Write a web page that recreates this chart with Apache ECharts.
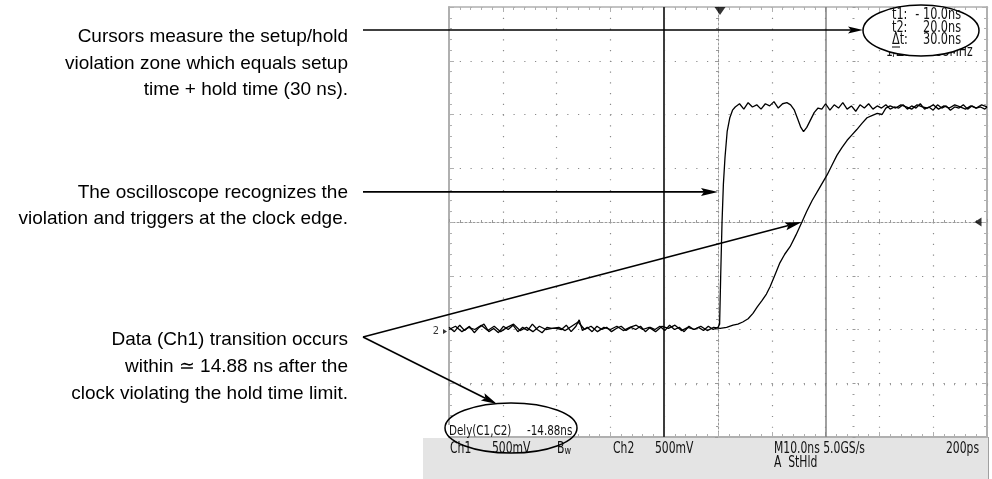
<!DOCTYPE html>
<html><head><meta charset="utf-8">
<script src="https://cdn.jsdelivr.net/npm/echarts@6/dist/echarts.min.js"></script>
<style>html,body{margin:0;padding:0;background:#fff;}#c{width:992px;height:479px;}</style>
</head><body><div id="c"></div>
<script>
// ---------- data ----------
const timeMinNs = -50, timeMaxNs = 50, timePerDivNs = 10;
const voltMin = -1, voltMax = 3, voltPerDiv = 0.5;
const cursorTimesNs = [-10, 20];
const triggerTimeNs = 0;
const triggerLevelV = 1.0;
const groundLevelV = 0;
const delayNs = -14.88;
const clockEdgeTarget = [0, 1.28];
const dataCrossTarget = [15.6, 1.0];

// Ch1 (data) waveform [ns, V]
const ch1Data = [
 [-50,0.0],[-48.8,0.03],[-47.6,-0.02],[-46.4,0.02],[-45.2,0.0],[-44,0.04],[-42.8,-0.01],[-41.6,0.03],[-40.4,-0.02],[-39.2,0.02],
 [-38,0.05],[-36.8,-0.01],[-35.6,0.02],[-34.4,-0.02],[-33.2,0.03],[-32,0.0],[-30.8,0.01],[-29.6,0.02],[-28.4,-0.01],[-27.2,0.03],
 [-26,0.07],[-24.8,0.0],[-23.6,0.03],[-22.4,-0.02],[-21.2,0.02],[-20,0.0],[-18.8,0.03],[-17.6,-0.01],[-16.4,0.02],[-15.2,0.04],
 [-14,0.0],[-12.8,0.02],[-11.6,-0.02],[-10.4,0.03],[-9.2,0.01],[-8,0.04],[-6.8,-0.01],[-5.6,0.02],[-4.4,0.0],[-3.2,0.03],
 [-2,-0.01],[-0.8,0.02],[0.4,0.01],
 [1.6,0.02],[2.8,0.04],[3.7,0.05],[4.6,0.07],[5.6,0.1],[6.5,0.15],[7.3,0.21],[8.2,0.27],[9,0.33],[9.7,0.40],[10.6,0.51],
 [11.5,0.62],[12.4,0.70],[13.4,0.77],[14.5,0.88],[15.6,1.0],[16.5,1.1],[17.5,1.2],[18.9,1.32],[20.3,1.44],[21.2,1.53],
 [22.1,1.62],[23,1.69],[24,1.76],[24.9,1.81],[25.8,1.86],[26.8,1.92],[27.7,1.97],[28.6,1.99],[29.6,2.01],[30.5,2.0],[31.2,2.06],
 [32,2.08],[33,2.06],[34,2.09],[35,2.07],[36,2.05],[37,2.09],[38,2.07],[39,2.06],[40,2.09],[41,2.05],
 [42,2.08],[43,2.06],[44,2.09],[45,2.07],[46,2.05],[47,2.08],[48,2.06],[49,2.09],[50,2.07]
];

// Ch2 (clock) waveform [ns, V]
const ch2Clock = [
 [-50,0.02],[-49,-0.02],[-48,0.04],[-47.1,-0.01],[-46.2,0.03],[-45.3,-0.03],[-44.4,0.02],[-43.5,0.05],[-42.6,-0.02],[-41.7,0.01],
 [-40.8,-0.03],[-39.9,0.03],[-39,0.0],[-38.1,0.04],[-37.2,-0.02],[-36.3,0.02],[-35.4,-0.01],[-34.5,0.05],[-33.6,0.0],[-32.7,-0.03],
 [-31.8,0.02],[-30.9,0.01],[-30,0.01],[-29.1,0.0],[-28.2,0.04],[-27.3,-0.02],[-26.4,0.03],[-25.8,0.09],[-25.2,-0.01],[-24.3,0.02],
 [-23.4,-0.02],[-22.5,0.03],[-21.6,0.0],[-20.7,0.02],[-19.8,-0.02],[-18.9,0.01],[-18,0.03],[-17.1,-0.01],[-16.2,0.02],[-15.3,0.0],
 [-14.4,0.03],[-13.5,-0.02],[-12.6,0.02],[-11.7,0.0],[-10.8,0.03],[-9.9,-0.01],[-9,0.04],[-8.1,0.0],[-7.2,0.02],[-6.3,-0.02],
 [-5.4,0.03],[-4.5,0.0],[-3.6,0.02],[-2.7,-0.01],[-1.8,0.03],[-0.9,0.0],[0,0.02],
 [0.3,0.05],[0.5,0.5],[0.75,1.0],[1.0,1.35],[1.3,1.6],[1.7,1.84],[2.2,1.97],[2.7,2.04],
 [3.2,2.07],[4,2.1],[4.8,2.05],[5.6,2.11],[6.4,2.07],[7.2,2.09],[8,2.05],[8.8,2.1],[9.6,2.08],[10.4,2.12],
 [11.2,2.06],[12,2.1],[12.8,2.11],[13.5,2.09],
 [14.2,2.04],[14.8,1.96],[15.4,1.88],[15.9,1.84],[16.5,1.88],[17.2,1.95],[17.9,2.02],[18.6,2.06],[19.3,2.05],
 [20,2.1],[20.8,2.04],[21.6,2.09],[22.4,2.06],[23.2,2.11],[24,2.05],[24.8,2.08],[25.6,2.03],[26.4,2.09],[27.2,2.06],
 [28,2.1],[28.8,2.05],[29.6,2.08],[30.4,2.06],[31.2,2.09],[32,2.05],[32.8,2.07],[33.6,2.06],[34.4,2.09],[35.2,2.05],
 [36,2.08],[36.8,2.06],[37.6,2.1],[38.4,2.05],[39.2,2.07],[40,2.04],[40.8,2.09],[41.6,2.06],[42.4,2.08],[43.2,2.04],
 [44,2.07],[44.8,2.06],[45.6,2.09],[46.4,2.05],[47.2,2.08],[48,2.06],[48.8,2.07],[49.6,2.05],[50,2.07]
];

const noteCursors = ['Cursors measure the setup/hold', 'violation zone which equals setup', 'time + hold time (30 ns).'];
const noteTrigger = ['The oscilloscope recognizes the', 'violation and triggers at the clock edge.'];
const noteData = ['Data (Ch1) transition occurs', 'within \u2243 14.88 ns after the', 'clock violating the hold time limit.'];
const statusRow1 = [['Ch1',450],['500mV',492],['Ch2',613],['500mV',655],['M10.0ns 5.0GS/s',774]];
const statusRow2 = [['A  StHld',774]];
const statusRight = '200ps';

// ---------- chart ----------
const GRID = {left:449, top:7, width:538, height:430};
const EDGE = '#b0b0b0', DOT = '#8a8a8a';
const SCOPE_FONT = '"DejaVu Sans Condensed","Liberation Sans Narrow","Roboto Condensed",Roboto,sans-serif';
const NOTE_FONT = '"Liberation Sans",Arial,Helvetica,sans-serif';

const chart = echarts.init(document.getElementById('c'), null, {renderer:'canvas'});

function xAx(grid, pos, o) {
  return Object.assign({type:'value', gridIndex:grid, position:pos, min:timeMinNs, max:timeMaxNs, interval:timePerDivNs,
    axisLabel:{show:false}, splitLine:{show:false}}, o);
}
function yAx(grid, pos, o) {
  return Object.assign({type:'value', gridIndex:grid, position:pos, min:voltMin, max:voltMax, interval:voltPerDiv,
    axisLabel:{show:false}, splitLine:{show:false}}, o);
}
const edgeLine = {show:true, onZero:false, lineStyle:{color:EDGE, width:2}};
const edgeTick = {show:true, inside:true, length:5, lineStyle:{color:EDGE, width:1}};
const edgeMinor = {show:true, splitNumber:5, length:3, lineStyle:{color:EDGE, width:1}};
const ctrLine = {show:true, onZero:false, lineStyle:{color:'#9a9a9a', width:1, type:[2,2]}};
const ctrTick = {show:true, inside:true, length:3, lineStyle:{color:'#9a9a9a', width:1}};
const ctrMinor = {show:true, splitNumber:5, length:2, lineStyle:{color:'#9a9a9a', width:1}};

const option = {
  animation:false,
  backgroundColor:'#fff',
  grid:[
    Object.assign({}, GRID),
    {left:449, top:7, width:538, height:215},
    {left:449, top:222, width:538, height:215},
    {left:449, top:7, width:269, height:430},
    {left:718, top:7, width:269, height:430}
  ],
  xAxis:[
    xAx(0,'bottom',{axisLine:edgeLine, axisTick:edgeTick, minorTick:edgeMinor,
      splitLine:{show:true, lineStyle:{color:DOT, width:1.2, type:[1.2, 9.56]}}}),
    xAx(0,'top',{axisLine:{show:true,onZero:false,lineStyle:{color:EDGE,width:1.5}}, axisTick:edgeTick, minorTick:edgeMinor}),
    xAx(1,'bottom',{axisLine:ctrLine, axisTick:ctrTick, minorTick:ctrMinor}),
    xAx(2,'top',{axisLine:{show:false}, axisTick:ctrTick, minorTick:ctrMinor}),
    xAx(3,'bottom',{show:false}),
    xAx(4,'bottom',{show:false})
  ],
  yAxis:[
    yAx(0,'left',{axisLine:edgeLine, axisTick:edgeTick, minorTick:edgeMinor,
      splitLine:{show:true, lineStyle:{color:DOT, width:1.2, type:[1.2, 9.55]}}}),
    yAx(0,'right',{axisLine:edgeLine, axisTick:edgeTick, minorTick:edgeMinor}),
    yAx(1,'left',{show:false}),
    yAx(2,'left',{show:false}),
    yAx(3,'right',{axisLine:ctrLine, axisTick:ctrTick, minorTick:ctrMinor}),
    yAx(4,'left',{axisLine:{show:false}, axisTick:ctrTick, minorTick:ctrMinor})
  ],
  series:[
    {name:'Ch1', type:'line', xAxisIndex:0, yAxisIndex:0, data:ch1Data, showSymbol:false, symbol:'none',
      lineStyle:{color:'#000', width:1.3}, z:5,
      markLine:{silent:true, symbol:'none', label:{show:false}, animation:false,
        data:[
          {xAxis:cursorTimesNs[0], lineStyle:{color:'#3c3c3c', width:2, type:'solid'}},
          {xAxis:cursorTimesNs[1], lineStyle:{color:'#808080', width:1.5, type:'solid'}}
        ]}},
    {name:'Ch2', type:'line', xAxisIndex:0, yAxisIndex:0, data:ch2Clock, showSymbol:false, symbol:'none',
      lineStyle:{color:'#000', width:1.3}, z:6},
    {name:'markers', type:'scatter', xAxisIndex:0, yAxisIndex:0, clip:false, silent:true, z:7,
      itemStyle:{color:'#000'},
      data:[
        {value:[triggerTimeNs, voltMax], symbol:'triangle', symbolRotate:180, symbolSize:[11,8], symbolOffset:[2,4]},
        {value:[timeMaxNs, triggerLevelV], symbol:'triangle', symbolRotate:90, symbolSize:[9,7], symbolOffset:[-9,0]},
        {value:[timeMinNs, groundLevelV], symbol:'triangle', symbolRotate:-90, symbolSize:[5,4], symbolOffset:[-4,2],
          label:{show:true, position:'left', distance:4, formatter:'2', fontSize:11, fontFamily:SCOPE_FONT, color:'#000'}}
      ]}
  ]
};
chart.setOption(option);

// ---------- annotations ----------
const px = v => chart.convertToPixel({xAxisIndex:0, yAxisIndex:0}, v);
function arrow(x1,y1,x2,y2,len,hw,lw){
  const dx=x2-x1, dy=y2-y1, L=Math.hypot(dx,dy), ux=dx/L, uy=dy/L;
  const bx=x2-ux*len, by=y2-uy*len, nx=-uy, ny=ux;
  return [
    {type:'line', z:100, shape:{x1:x1,y1:y1,x2:bx+ux*3,y2:by+uy*3}, style:{stroke:'#000', lineWidth:lw}},
    {type:'polygon', z:100, shape:{points:[[x2,y2],[bx+nx*hw,by+ny*hw],[bx+ux*3,by+uy*3],[bx-nx*hw,by-ny*hw]]}, style:{fill:'#000'}}
  ];
}
function note(lines, ys){
  return lines.map((t,i)=>({type:'text', z:100, x:348, y:ys[i],
    style:{text:t, fontSize:19, fontFamily:NOTE_FONT, fill:'#000', align:'right', verticalAlign:'middle'}}));
}
function stxt(t,x,y,o,z){
  return {type:'text', z:z||110, x:x, y:y, scaleY:1.25,
    style:Object.assign({text:t, fontSize:12, fontFamily:SCOPE_FONT, fill:'#111', align:'left', verticalAlign:'middle'}, o||{})};
}

const pEdge = px(clockEdgeTarget);
const pCross = px(dataCrossTarget);
const els = [];
els.push(...note(noteCursors,[37,64,90]));
els.push(...note(noteTrigger,[193,219]));
els.push(...note(noteData,[340,367,394]));
els.push(...arrow(363,30,863,30,15,3.6,1.6));
els.push(...arrow(363,pEdge[1],pEdge[0],pEdge[1],17,4,1.6));
els.push(...arrow(363,337,pCross[0],pCross[1],17,4,1.6));
els.push(...arrow(363,337,497,404,16,4,1.6));

// status bar
els.push({type:'rect', z:50, shape:{x:423,y:438,width:566,height:41}, style:{fill:'#e4e4e4'}});
els.push({type:'line', z:51, shape:{x1:988.5,y1:437,x2:988.5,y2:479}, style:{stroke:'#a0a0a0', lineWidth:1}});
statusRow1.forEach(s=>els.push(stxt(s[0],s[1],449)));
statusRow2.forEach(s=>els.push(stxt(s[0],s[1],463)));
els.push({type:'text', z:110, x:557, y:449, scaleY:1.25, style:{text:'{b|B}{w|w}', fontFamily:SCOPE_FONT, fill:'#111', verticalAlign:'middle',
  rich:{b:{fontSize:12, fontFamily:SCOPE_FONT, fill:'#111'}, w:{fontSize:9, fontFamily:SCOPE_FONT, fill:'#111', verticalAlign:'bottom', padding:[4,0,0,0]}}}});
els.push(stxt(statusRight,979,449,{align:'right'}));

// delay readout
els.push({type:'rect', z:60, shape:{x:447,y:425,width:126,height:11}, style:{fill:'#fff'}});
els.push(stxt('Dely(C1,C2)',449,431,{fontSize:11.5}));
els.push(stxt(delayNs.toFixed(2)+'ns',527,431,{fontSize:11.5}));
els.push({type:'ellipse', z:120, shape:{cx:511,cy:428,rx:66,ry:25}, style:{fill:null, stroke:'#000', lineWidth:1.5}});

// cursor readout
const dt = cursorTimesNs[1]-cursorTimesNs[0];
els.push(stxt('1/\u0394t:  '+(1000/dt).toFixed(2)+'MHz',886,52,{fontSize:12},110));
els.push({type:'ellipse', z:115, shape:{cx:921,cy:30.5,rx:58,ry:25.5}, style:{fill:'#fff', stroke:'#000', lineWidth:1.5}});
const fmt = v => (v<0?'- ':'')+Math.abs(v).toFixed(1)+'ns';
[['t1:',fmt(cursorTimesNs[0]),15],['t2:',fmt(cursorTimesNs[1]),27.5],['\u0394t:',fmt(dt),40]].forEach(r=>{
  els.push(stxt(r[0],892,r[2],{fontSize:12.5},130));
  els.push(stxt(r[1],961,r[2],{fontSize:12.5, align:'right'},130));
});
els.push({type:'line', z:130, shape:{x1:892,y1:47,x2:900,y2:47}, style:{stroke:'#000', lineWidth:1}});

chart.setOption({graphic:{elements:els}});
</script>
</body></html>
